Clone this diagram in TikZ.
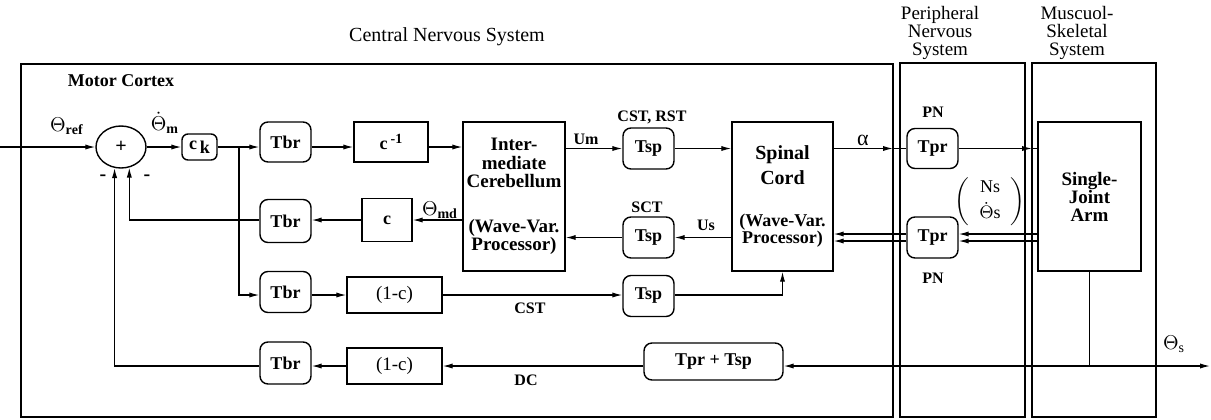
\documentclass[tikz,border=0pt]{standalone}
\usepackage{fontspec}
\setmainfont{Liberation Serif}
\usetikzlibrary{arrows.meta,shapes.geometric}
\begin{document}
\begin{tikzpicture}[x=0.5pt,y=-0.5pt,
  arr/.style={-{Latex[length=5pt,width=2.6pt]}, line width=0.6pt},
  ln/.style={line width=0.6pt},
  frame/.style={draw, line width=0.8pt},
  rbox/.style={draw, line width=0.7pt, rounded corners=4pt, inner sep=0pt,
    font=\bfseries\fontsize{9}{9}\selectfont, minimum width=25.5pt, minimum height=20.5pt},
  sbox/.style={draw, line width=0.7pt, inner sep=0pt, align=center,
    font=\bfseries\fontsize{9}{9}\selectfont},
  lbl/.style={inner sep=0pt, font=\bfseries\fontsize{8}{9}\selectfont},
  ttl/.style={inner sep=0pt, align=center, font=\fontsize{9.5}{9}\selectfont}
]
\useasboundingbox (0,0) rectangle (1211,419);

% frames
\draw[frame] (21,64) rectangle (893,417);
\draw[frame] (900,63) rectangle (1025,417);
\draw[frame] (1032,63) rectangle (1156,417);

% titles
\node[ttl, font=\fontsize{10}{10}\selectfont] (tcns) at (447,37) {Central Nervous System};
\node[ttl] (tpns) at (940,33) {Peripheral\\Nervous\\System};
\node[ttl] (tmss) at (1077,33) {Muscuol-\\Skeletal\\System};
\node[lbl, font=\bfseries\fontsize{9}{9}\selectfont] (tmc) at (121,81) {Motor Cortex};

% nodes
\node[draw, ellipse, line width=0.7pt, inner sep=0pt, minimum width=25pt, minimum height=21pt,
  font=\bfseries\fontsize{10}{10}\selectfont] (sum) at (121,147) {+};
\node[rbox, rounded corners=3pt, minimum width=17.5pt, minimum height=13pt] (ck) at (199.5,147)
  {c\,\raisebox{-0.45ex}{k}};
\node[rbox, minimum height=20pt] (tbr1) at (285.5,142) {Tbr};
\node[rbox, minimum height=21.5pt] (tbr2) at (285.5,221) {Tbr};
\node[rbox] (tbr3) at (285.5,292) {Tbr};
\node[rbox, minimum height=21pt] (tbr4) at (285.5,363) {Tbr};
\node[sbox, minimum width=37pt, minimum height=20pt] (cinv) at (391,142)
  {c\,\raisebox{0.7ex}{\fontsize{7}{7}\selectfont -1}};
\node[sbox, minimum width=25pt, minimum height=21.5pt] (cc) at (387,220) {c};
\node[sbox, minimum width=47.5pt, minimum height=18pt, font=\fontsize{9.5}{9}\selectfont] (omc1) at (394.5,295) {(1-c)};
\node[sbox, minimum width=47.5pt, minimum height=18pt, font=\fontsize{9.5}{9}\selectfont] (omc2) at (394.5,366) {(1-c)};
\node[sbox, minimum width=51pt, minimum height=74.5pt, font=\bfseries\fontsize{9.5}{9.3}\selectfont] (cer) at (514,196.5)
  {Inter-\\mediate\\Cerebellum\\[13pt](Wave-Var.\\Processor)};
\node[rbox] (tsp1) at (648.5,148.5) {Tsp};
\node[rbox] (tsp2) at (648.5,237.5) {Tsp};
\node[rbox] (tsp3) at (648.5,296) {Tsp};
\node[rbox, minimum width=69.5pt, minimum height=18.5pt] (tps) at (713.5,361.5) {Tpr + Tsp};
\node[sbox, minimum width=50.5pt, minimum height=74.5pt, font=\bfseries\fontsize{9}{8.8}\selectfont] (sc) at (782.5,196.5)
  {{\fontsize{10}{10}\selectfont Spinal}\\[2.5pt]{\fontsize{10}{10}\selectfont Cord}\\[12pt](Wave-Var.\\Processor)};
\node[rbox, minimum height=20pt] (tpr1) at (932.5,148.5) {Tpr};
\node[rbox] (tpr2) at (932.5,237.5) {Tpr};
\node[sbox, minimum width=51.5pt, minimum height=74.5pt, font=\bfseries\fontsize{9.5}{9}\selectfont] (arm) at (1089.5,196.5)
  {Single-\\Joint\\Arm};

% labels
\node[inner sep=0pt, font=\fontsize{10}{10}\selectfont] (lref) at (67,126) {$\Theta_{\mathbf{ref}}$};
\node[inner sep=0pt, font=\fontsize{10}{10}\selectfont] (lm) at (165,123) {$\dot{\Theta}_{\mathbf{m}}$};
\node[lbl, font=\bfseries\fontsize{10}{10}\selectfont] (mi1) at (103,178) {-};
\node[lbl, font=\bfseries\fontsize{10}{10}\selectfont] (mi2) at (147,178) {-};
\node[inner sep=0pt, font=\fontsize{10}{10}\selectfont] (lmd) at (440,210) {$\Theta_{\mathbf{md}}$};
\node[lbl] (lum) at (586,139) {Um};
\node[lbl] (lus) at (706,225) {Us};
\node[lbl] (lcr) at (652,117) {CST, RST};
\node[lbl] (lsct) at (647,207) {SCT};
\node[lbl] (lcst) at (530,308) {CST};
\node[lbl] (ldc) at (526,380) {DC};
\node[inner sep=0pt, font=\fontsize{11}{11}\selectfont] (lal) at (863,140) {α};
\node[lbl] (lpn1) at (933,112) {PN};
\node[lbl] (lpn2) at (933,278) {PN};
\node[inner sep=0pt, font=\fontsize{9}{9}\selectfont] (lvec) at (990,202)
  {$\left(\begin{array}{c}\mathrm{Ns}\\[2pt] \dot{\Theta}\mathrm{s}\end{array}\right)$};
\node[inner sep=0pt, font=\fontsize{10}{10}\selectfont] (lths) at (1174,344) {$\Theta_{\mathrm{s}}$};

% coordinates
\coordinate (in) at (0,147);
\coordinate (br) at (239,147);
\coordinate (b1) at (893,148.5);
\coordinate (b2) at (1032,148.5);
\coordinate (out) at (1210,366);
\coordinate (j) at (arm.south |- 0,366);
\coordinate (u1) at ([yshift=1.75pt]tpr2.east);
\coordinate (u2) at ([yshift=-1.75pt]tpr2.east);
\coordinate (v1) at ([yshift=1.75pt]tpr2.west);
\coordinate (v2) at ([yshift=-1.75pt]tpr2.west);

% row 1
\draw[arr] (in) -- (sum.west);
\draw[arr] (sum.east) -- (ck.west);
\draw[arr] (ck.east) -- (ck.east -| tbr1.west);
\draw[arr] (tbr1.east |- br) -- (cinv.west |- br);
\draw[arr] (cinv.east |- br) -- (cer.west |- br);
\draw[arr] (cer.east |- tsp1) -- (tsp1.west);
\draw[arr] (tsp1.east) -- (sc.west |- tsp1);
\draw[arr] (sc.east |- b1) -- (b1);
\draw[ln] (b1) -- (tpr1.west);
\draw[arr] (tpr1.east) -- (b2);
\draw[ln] (b2) -- (arm.west |- b2);

% row 2
\draw[arr] (arm.west |- u1) -- (u1);
\draw[arr] (arm.west |- u2) -- (u2);
\draw[arr] (v1) -- (sc.east |- v1);
\draw[arr] (v2) -- (sc.east |- v2);
\draw[arr] (sc.west |- tsp2) -- (tsp2.east);
\draw[arr] (tsp2.west) -- (cer.east |- tsp2);
\draw[arr] (cer.west |- cc) -- (cc.east);
\draw[arr] (cc.west) -- (cc.west -| tbr2.east);
\draw[arr] (tbr2.west |- cc) -| (sum.292);

% row 3
\draw[arr] (br) |- (tbr3.west |- omc1);
\draw[arr] (tbr3.east |- omc1) -- (omc1.west);
\draw[arr] (omc1.east) -- (tsp3.west |- omc1);
\draw[arr] (tsp3.east |- omc1) -| (sc.south);

% row 4
\draw[ln] (arm.south) -- (j);
\draw[arr] (j) -- (out);
\draw[arr] (j) -- (tps.east |- j);
\draw[arr] (tps.west |- j) -- (omc2.east);
\draw[arr] (omc2.west) -- (tbr4.east |- omc2);
\draw[arr] (tbr4.west |- omc2) -| (sum.253);
\end{tikzpicture}
\end{document}
